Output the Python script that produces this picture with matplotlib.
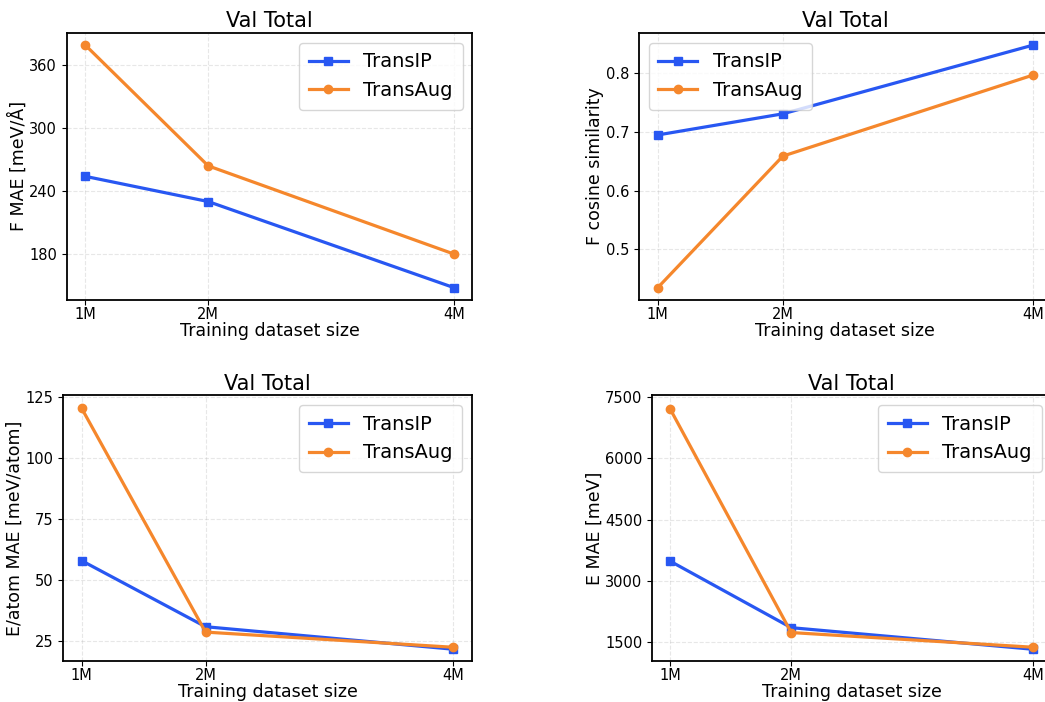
import numpy as np
import matplotlib
matplotlib.use('Agg')
import matplotlib.pyplot as plt

# training dataset size (millions)
sizes = [1, 2, 4]
size_labels = ['1M', '2M', '4M']

# F MAE [meV/Å]
f_mae_transip = [254, 230, 148]
f_mae_transaug = [379, 264, 180]

# F cosine similarity
f_cos_transip = [0.695, 0.731, 0.848]
f_cos_transaug = [0.435, 0.659, 0.797]

# E/atom MAE [meV/atom]
eatom_transip = [58.0, 31.0, 21.8]
eatom_transaug = [120.3, 28.8, 22.6]

# E MAE [meV]
e_mae_transip = [3480, 1850, 1320]
e_mae_transaug = [7210, 1730, 1370]

BLUE = '#2857F2'
ORANGE = '#F5872C'

fig = plt.figure(figsize=(10.45, 7.02), dpi=100)

panels = [
    ([0.064, 0.573, 0.388, 0.380], f_mae_transip, f_mae_transaug, 'F MAE [meV/Å]',
     [180, 240, 300, 360], 'upper right'),
    ([0.6115, 0.573, 0.395, 0.380], f_cos_transip, f_cos_transaug, 'F cosine similarity',
     [0.5, 0.6, 0.7, 0.8], 'upper left'),
    ([0.0603, 0.058, 0.3914, 0.379], eatom_transip, eatom_transaug, 'E/atom MAE [meV/atom]',
     [25, 50, 75, 100, 125], 'upper right'),
    ([0.624, 0.058, 0.382, 0.379], e_mae_transip, e_mae_transaug, 'E MAE [meV]',
     [1500, 3000, 4500, 6000, 7500], 'upper right'),
]

for rect, ip, aug, ylabel, yticks, loc in panels:
    ax = fig.add_axes(rect)
    ax.plot(sizes, ip, color=BLUE, marker='s', markersize=6, linewidth=2.3, label='TransIP')
    ax.plot(sizes, aug, color=ORANGE, marker='o', markersize=6, linewidth=2.3, label='TransAug')
    ax.set_xticks(sizes)
    ax.set_xticklabels(size_labels)
    ax.set_yticks(yticks)
    ax.tick_params(labelsize=10.5)
    ax.tick_params(axis='x', pad=1.5)
    ax.set_xlabel('Training dataset size', fontsize=12.5, labelpad=0)
    ax.set_ylabel(ylabel, fontsize=12.5, labelpad=1)
    ax.set_title('Val Total', fontsize=15, pad=4)
    ax.grid(True, linestyle='--', alpha=0.3)
    ax.legend(loc=loc, fontsize=14, handlelength=2.0, handletextpad=0.8,
              labelspacing=0.5, borderpad=0.5)
    for s in ax.spines.values():
        s.set_linewidth(1.3)

# keep last tick values in range like autoscale
fig.axes[2].set_ylim(top=125.6)
fig.axes[3].set_ylim(top=7550)

plt.savefig('out.png', dpi=100)
